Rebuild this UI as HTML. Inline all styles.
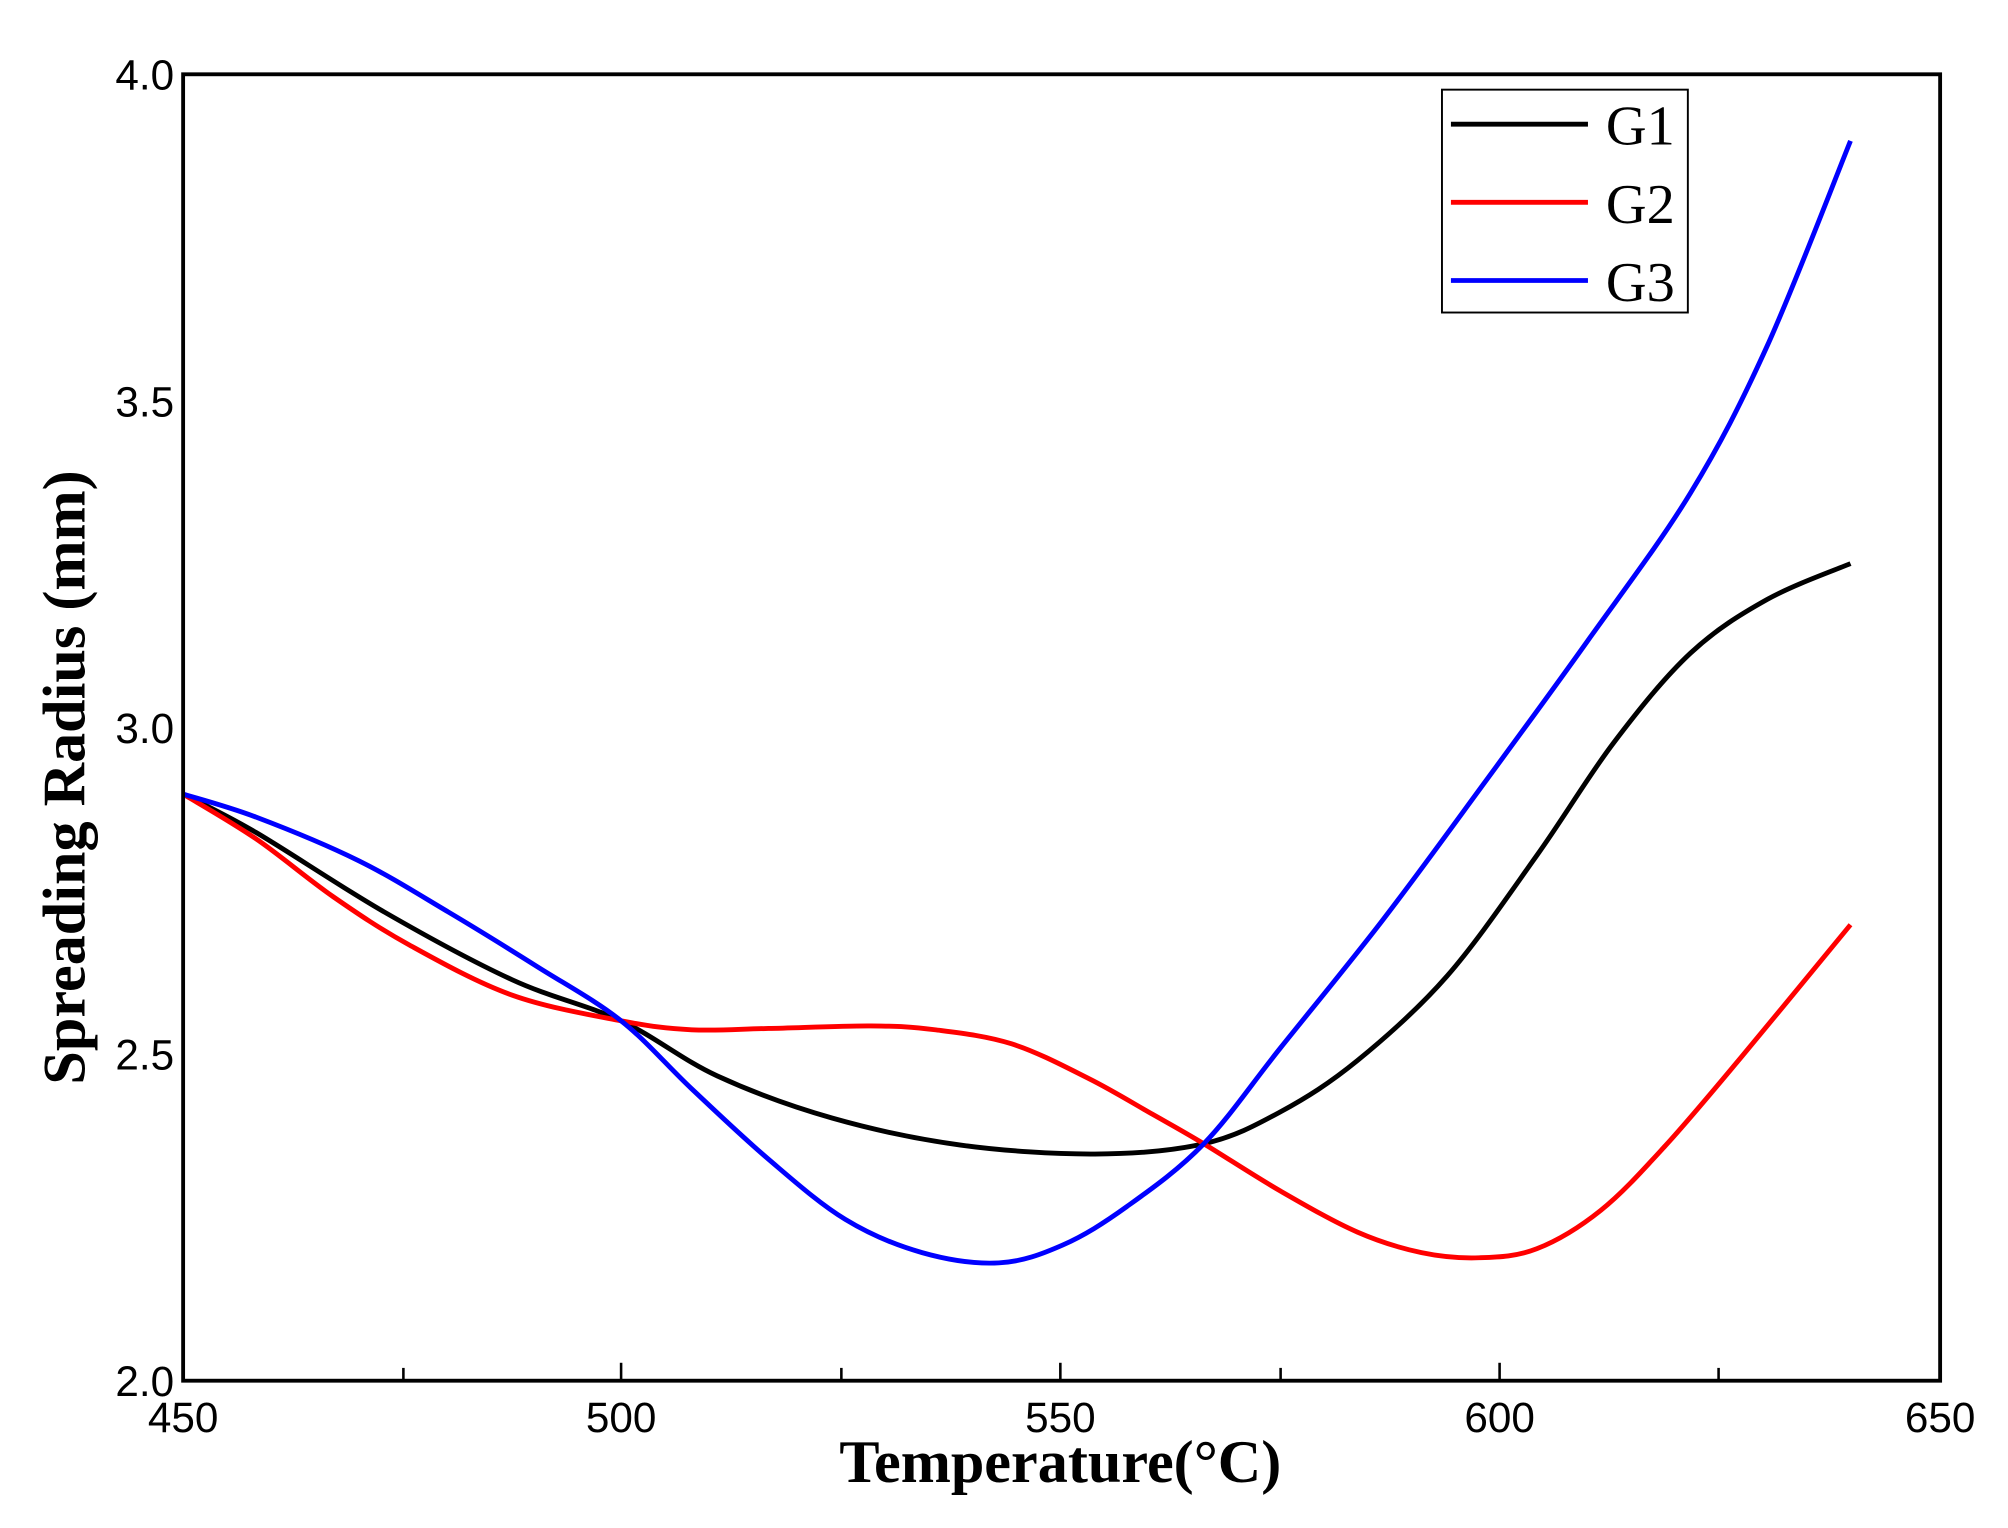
<!DOCTYPE html>
<html><head><meta charset="utf-8"><style>
html,body{margin:0;padding:0;background:#fff;}
svg{display:block;}
</style></head><body>
<svg id="s" width="2008" height="1528" viewBox="0 0 1568 1193" preserveAspectRatio="none" xmlns="http://www.w3.org/2000/svg">
<rect x="0" y="0" width="1568" height="1193" fill="#fff"/>
<g id="curves" fill="none" stroke-width="3.8"></g>
<rect x="143" y="58" width="1372" height="1020" fill="none" stroke="#000" stroke-width="3"/>
<g stroke="#000" stroke-width="2">
<line x1="315" y1="1078" x2="315" y2="1068"/><line x1="485" y1="1078" x2="485" y2="1064"/>
<line x1="657" y1="1078" x2="657" y2="1068"/><line x1="828" y1="1078" x2="828" y2="1064"/>
<line x1="1000" y1="1078" x2="1000" y2="1068"/><line x1="1171" y1="1078" x2="1171" y2="1064"/>
<line x1="1342" y1="1078" x2="1342" y2="1068"/>
</g>
<g font-family="Liberation Sans, sans-serif" font-size="33" fill="#000">
<text x="136" y="70" text-anchor="end">4.0</text>
<text x="136" y="325" text-anchor="end">3.5</text>
<text x="136" y="580" text-anchor="end">3.0</text>
<text x="136" y="835" text-anchor="end">2.5</text>
<text x="136" y="1090" text-anchor="end">2.0</text>
<text x="143" y="1118" text-anchor="middle">450</text>
<text x="485" y="1118" text-anchor="middle">500</text>
<text x="828" y="1118" text-anchor="middle">550</text>
<text x="1171" y="1118" text-anchor="middle">600</text>
<text x="1515" y="1118" text-anchor="middle">650</text>
</g>
<text x="828" y="1157" text-anchor="middle" font-family="Liberation Serif, serif" font-weight="bold" font-size="47">Temperature(°C)</text>
<text transform="translate(66,607) rotate(-90)" text-anchor="middle" font-family="Liberation Serif, serif" font-weight="bold" font-size="47">Spreading Radius (mm)</text>
<rect x="1126" y="70" width="192" height="174" fill="#fff" stroke="#000" stroke-width="1.5"/>
<g stroke-width="3.8">
<line x1="1133" y1="97" x2="1240" y2="97" stroke="#000"/>
<line x1="1133" y1="158" x2="1240" y2="158" stroke="#f00"/>
<line x1="1133" y1="219" x2="1240" y2="219" stroke="#00f"/>
</g>
<g font-family="Liberation Serif, serif" font-size="44" fill="#000">
<text x="1254" y="113">G1</text><text x="1254" y="174">G2</text><text x="1254" y="235">G3</text>
</g>
</svg>
<script>
var data={
"#000":[[143,620],[200,650],[300,712],[400,765],[485,797],[560,840],[650,873],[750,894],[855,901],[940,893],[1000,868],[1060,828],[1130,762],[1200,668],[1260,580],[1320,510],[1380,468],[1445,440]],
"#f00":[[143,620],[200,655],[260,700],[320,738],[400,777],[485,797],[540,804],[600,803],[680,801],[730,804],[790,815],[850,842],[900,870],[940,893],[1000,930],[1060,962],[1110,978],[1155,982],[1200,975],[1250,945],[1300,895],[1360,825],[1445,722]],
"#00f":[[143,620],[200,638],[280,672],[350,712],[420,755],[485,797],[540,850],[600,905],[660,952],[720,978],[780,986],[830,972],[880,942],[940,893],[1000,818],[1080,718],[1160,610],[1240,500],[1320,385],[1380,270],[1445,110]]};
var g=document.getElementById('curves');
for(var c in data){var p=data[c],d='M'+p[0][0]+','+p[0][1];
for(var i=0;i<p.length-1;i++){var p0=p[i-1]||p[i],p1=p[i],p2=p[i+1],p3=p[i+2]||p2;
d+=' C'+(p1[0]+(p2[0]-p0[0])/6)+','+(p1[1]+(p2[1]-p0[1])/6)+' '+(p2[0]-(p3[0]-p1[0])/6)+','+(p2[1]-(p3[1]-p1[1])/6)+' '+p2[0]+','+p2[1];}
var e=document.createElementNS('http://www.w3.org/2000/svg','path');e.setAttribute('d',d);e.setAttribute('stroke',c);g.appendChild(e);}
</script>
</body></html>
